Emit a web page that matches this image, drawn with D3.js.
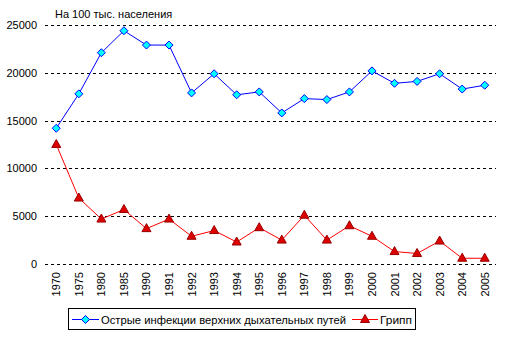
<!DOCTYPE html>
<html><head><meta charset="utf-8">
<script src="https://cdn.jsdelivr.net/npm/d3@7"></script>
<style>body{margin:0;background:#fff}svg{display:block}text{font-family:"Liberation Sans",Arial,sans-serif}</style>
</head><body>
<svg id="c" width="511" height="341"></svg>
<script>
const years = ["1970","1975","1980","1985","1990","1991","1992","1993","1994","1995","1996","1997","1998","1999","2000","2001","2002","2003","2004","2005"];
const acute = [14200,17800,22100,24400,22900,22900,17900,19900,17700,18000,15800,17300,17200,18000,20200,18900,19100,19900,18300,18700];
const flu = [12500,6900,4700,5700,3700,4700,2900,3500,2300,3800,2500,5100,2500,4000,2900,1300,1100,2400,600,600];
const yTicks = [0,5000,10000,15000,20000,25000];
const seriesNames = ["Острые инфекции верхних дыхательных путей","Грипп"];
const unitLabel = "На 100 тыс. населения";

const svg = d3.select("#c");
const L = 45, R = 496, T = 25, B = 264;
const x = d3.scaleBand().domain(years).range([L, R]);
const y = d3.scaleLinear().domain([0, 25000]).range([B, T]);

// grid
svg.append("g").selectAll("line").data(yTicks).join("line")
  .attr("x1", L).attr("x2", R)
  .attr("y1", d => Math.round(y(d)) + 0.5).attr("y2", d => Math.round(y(d)) + 0.5)
  .attr("stroke", "#000").attr("stroke-dasharray", "3,3").attr("stroke-width", 1);

// y labels
svg.append("g").selectAll("text").data(yTicks).join("text")
  .attr("x", 37).attr("y", d => y(d) + 4)
  .attr("text-anchor", "end").attr("font-size", 11).text(d => d);

// x labels
svg.append("g").selectAll("text").data(years).join("text")
  .attr("transform", d => `translate(${x(d) + x.bandwidth()/2 + 4},272) rotate(-90)`)
  .attr("text-anchor", "end").attr("font-size", 11).text(d => d);

// title
svg.append("text").attr("x", 55).attr("y", 18).attr("font-size", 11).text(unitLabel);

const cx = d => x(d) + x.bandwidth()/2;
const line = d3.line().x((d, i) => cx(years[i])).y(d => y(d));

svg.append("path").datum(acute).attr("d", line).attr("fill", "none").attr("stroke", "#0000ff").attr("stroke-width", 1);
svg.append("path").datum(flu).attr("d", line).attr("fill", "none").attr("stroke", "#ff0000").attr("stroke-width", 1);

const diamond = (sx, sy) => `M${sx},${sy-4}L${sx+4},${sy}L${sx},${sy+4}L${sx-4},${sy}Z`;
const tri = (sx, sy) => `M${sx},${sy-5}L${sx+4.5},${sy+3}L${sx-4.5},${sy+3}Z`;

svg.append("g").selectAll("path").data(acute).join("path")
  .attr("d", (d, i) => diamond(cx(years[i]), y(d)))
  .attr("fill", "#00ffff").attr("stroke", "#0000ff").attr("stroke-width", 1);
svg.append("g").selectAll("path").data(flu).join("path")
  .attr("d", (d, i) => tri(cx(years[i]), y(d)))
  .attr("fill", "#dd0000").attr("stroke", "#990000").attr("stroke-width", 1);

// legend
const lg = svg.append("g");
lg.append("rect").attr("x", 68.5).attr("y", 308.5).attr("width", 347).attr("height", 21)
  .attr("fill", "#fff").attr("stroke", "#000");
lg.append("line").attr("x1", 72).attr("x2", 99).attr("y1", 319.5).attr("y2", 319.5).attr("stroke", "#0000ff");
lg.append("path").attr("d", diamond(85.5, 319.5)).attr("fill", "#00ffff").attr("stroke", "#0000ff");
lg.append("text").attr("x", 101).attr("y", 323.5).attr("font-size", 11)
  .attr("textLength", 245).attr("lengthAdjust", "spacingAndGlyphs").text(seriesNames[0]);
lg.append("line").attr("x1", 352).attr("x2", 378).attr("y1", 319.5).attr("y2", 319.5).attr("stroke", "#ff0000");
lg.append("path").attr("d", tri(365, 319.5)).attr("fill", "#dd0000").attr("stroke", "#990000");
lg.append("text").attr("x", 380).attr("y", 323.5).attr("font-size", 11)
  .attr("textLength", 32).attr("lengthAdjust", "spacingAndGlyphs").text(seriesNames[1]);
</script>
</body></html>
